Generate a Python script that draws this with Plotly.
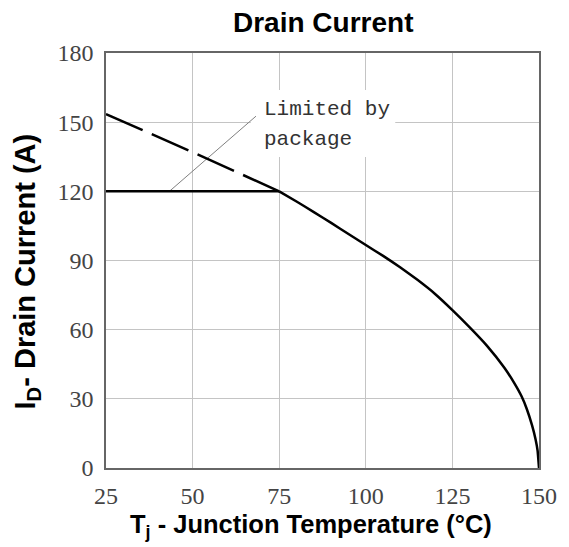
import plotly.graph_objects as go

# ---- data ----
tj_curve = [75, 80, 85, 90, 95, 100, 105, 110, 115, 120, 125, 130, 135, 140, 143, 145, 146.5, 148, 149, 149.6, 150]
id_curve = [120, 115.6, 111, 106.3, 101.5, 96.7, 92, 87, 81.5, 75.5, 68.5, 61, 53, 43.5, 36.5, 31, 25.5, 18.5, 12.5, 7.5, 0]

tj_dashed = [25, 50, 75]
id_dashed = [153.5, 137, 120]

tj_limit = [25, 75]
id_limit = [120, 120]

tj_leader = [43.3, 68.3]
id_leader = [120, 152.6]

x_ticks = [25, 50, 75, 100, 125, 150]
y_ticks = [0, 30, 60, 90, 120, 150, 180]

fig = go.Figure()
fig.add_trace(go.Scatter(x=tj_leader, y=id_leader, mode="lines",
                         line=dict(color="#808080", width=1), hoverinfo="skip"))
fig.add_trace(go.Scatter(x=tj_dashed, y=id_dashed, mode="lines",
                         line=dict(color="black", width=2.5, dash="40px,10px")))
fig.add_trace(go.Scatter(x=tj_limit, y=id_limit, mode="lines",
                         line=dict(color="black", width=2.5)))
fig.add_trace(go.Scatter(x=tj_curve, y=id_curve, mode="lines",
                         line=dict(color="black", width=2.5, shape="spline", smoothing=0.3)))

# white box behind the note (hides grid lines)
fig.add_shape(type="rect", xref="x", yref="y", x0=66.8, x1=108.5, y0=134.9, y1=163.9,
              fillcolor="white", line=dict(width=0), layer="between")

note_font = dict(family="Liberation Mono, Courier New, monospace", size=21, color="#333333")
fig.add_annotation(x=70.1, y=155.7, xref="x", yref="y", text="Limited by", showarrow=False,
                   xanchor="left", yanchor="middle", font=note_font)
fig.add_annotation(x=70.1, y=142.7, xref="x", yref="y", text="package", showarrow=False,
                   xanchor="left", yanchor="middle", font=note_font)

fig.add_annotation(x=0.5, y=1, xref="paper", yref="paper", yshift=31,
                   text="<b>Drain Current</b>", showarrow=False,
                   xanchor="center", yanchor="middle",
                   font=dict(family="Liberation Sans, Arial, sans-serif", size=28, color="black"))
fig.add_annotation(x=0.5, y=0, xref="paper", yref="paper", yshift=-58, xshift=-12,
                   text="<b>T<sub>j</sub> - Junction Temperature (°C)</b>", showarrow=False,
                   xanchor="center", yanchor="middle",
                   font=dict(family="Liberation Sans, Arial, sans-serif", size=25.5, color="black"))
fig.add_annotation(x=0, y=0.5, xref="paper", yref="paper", xshift=-80, yshift=-11,
                   text="<b>I<sub>D</sub>- Drain Current (A)</b>", showarrow=False, textangle=-90,
                   xanchor="center", yanchor="middle",
                   font=dict(family="Liberation Sans, Arial, sans-serif", size=29, color="black"))

axis_common = dict(showgrid=True, gridcolor="#c4c4c4", gridwidth=1,
                   showline=True, linecolor="#666666", linewidth=1.5, mirror=True,
                   zeroline=False, ticks="",
                   tickfont=dict(family="Liberation Serif, DejaVu Serif, serif", size=24, color="#444444"))

# the page adds an 8px body margin, so the figure is 8px smaller than the window
fig.update_layout(
    width=561, height=539,
    margin=dict(l=98, r=30, t=45, b=79),
    paper_bgcolor="white", plot_bgcolor="white",
    showlegend=False,
    xaxis=dict(range=[25, 150], tickvals=x_ticks, ticktext=[str(v) for v in x_ticks],
               ticklabelstandoff=5, **axis_common),
    yaxis=dict(range=[0, 180], tickvals=y_ticks, ticktext=[str(v) for v in y_ticks],
               ticklabelstandoff=6, **axis_common),
)

fig.write_html("out.html")
